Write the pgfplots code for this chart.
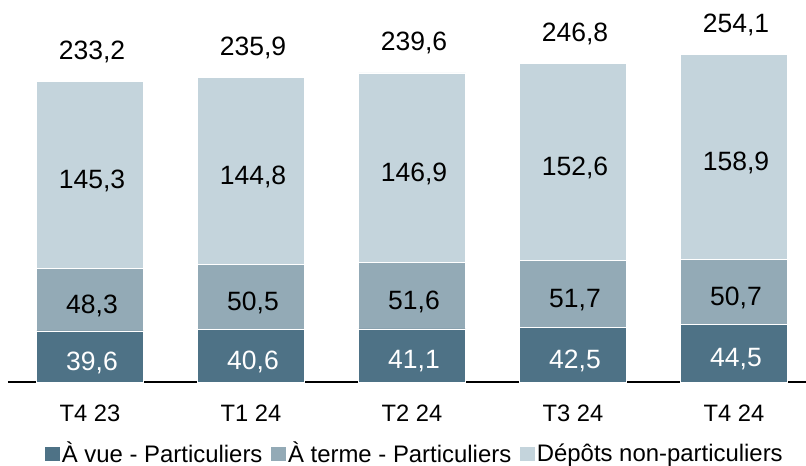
\documentclass[border=0pt]{standalone}
\usepackage{fontspec}
\setmainfont{Liberation Sans}
\usepackage{pgfplots}
\usepackage{pgfplotstable}
\pgfplotsset{compat=1.18}

\definecolor{vue}{HTML}{4E7286}
\definecolor{terme}{HTML}{93AAB6}
\definecolor{autres}{HTML}{C4D4DC}

% encours en Md EUR
\pgfplotstableread{
x vue terme autres total
0 39.6 48.3 145.3 233.2
1 40.6 50.5 144.8 235.9
2 41.1 51.6 146.9 239.6
3 42.5 51.7 152.6 246.8
4 44.5 50.7 158.9 254.1
}\depots

\pgfplotsset{
  cadre/.style={
    at={(0,0)}, anchor=origin,
    x=80.5bp, y=0.645bp,
    xmin=-0.51, xmax=4.47, ymin=0, ymax=296,
    clip=false,
  },
  etiq/.style={draw=none, mark=none, nodes near coords,
    every node near coord/.style={anchor=center, text=#1,
      font=\fontsize{13.3}{15}\selectfont, xshift=1bp, yshift=-3bp}},
}

\begin{document}
\begin{tikzpicture}
\useasboundingbox (-45bp,-42bp) rectangle (358bp,191bp);
\begin{axis}[
  cadre,
  ybar stacked, bar width=53.5bp,
  axis x line*=bottom, axis y line=none,
  x axis line style={line width=0.75bp, black},
  major tick length=0pt,
  xtick=data,
  xticklabels={T4 23, T1 24, T2 24, T3 24, T4 24},
  xticklabel style={anchor=north, inner sep=0pt, yshift=-11.5bp,
                    font=\fontsize{11.9}{14}\selectfont},
  legend style={draw=none, fill=none, legend columns=-1,
                at={(0.5,0)}, anchor=center, yshift=-36bp, xshift=3bp,
                font=\fontsize{12}{14}\selectfont,
                nodes={inner sep=0.9bp},
                /tikz/every even column/.append style={column sep=3.5bp}},
  legend image code/.code={\fill[#1, draw=none] (0bp,-3.4bp) rectangle (7.5bp,3.4bp);},
]
\addplot[fill=vue, draw=white, line width=0.4bp] table[x=x, y=vue] {\depots};
\addlegendentry{À vue - Particuliers}
\addplot[fill=terme, draw=white, line width=0.4bp] table[x=x, y=terme] {\depots};
\addlegendentry{À terme - Particuliers}
\addplot[fill=autres, draw=white, line width=0.4bp] table[x=x, y=autres] {\depots};
\addlegendentry{Dépôts non-particuliers}
\end{axis}
% étiquettes de valeurs
\begin{axis}[
  cadre, hide axis,
  /pgf/number format/.cd, use comma, fixed, fixed zerofill, precision=1,
    assume math mode=true,
  /pgfplots/.cd,
]
\addplot[etiq=white, point meta=\thisrow{vue}]
  table[x=x, y expr=\thisrow{vue}/2] {\depots};
\addplot[etiq=black, point meta=\thisrow{terme}]
  table[x=x, y expr=\thisrow{vue}+\thisrow{terme}/2] {\depots};
\addplot[etiq=black, point meta=\thisrow{autres}]
  table[x=x, y expr=\thisrow{vue}+\thisrow{terme}+\thisrow{autres}/2] {\depots};
\addplot[draw=none, mark=none, nodes near coords, point meta=\thisrow{total},
  every node near coord/.style={anchor=base, text=black,
    font=\fontsize{13.3}{15}\selectfont, xshift=1bp, yshift=11bp}]
  table[x=x, y=total] {\depots};
\end{axis}
\end{tikzpicture}
\end{document}
